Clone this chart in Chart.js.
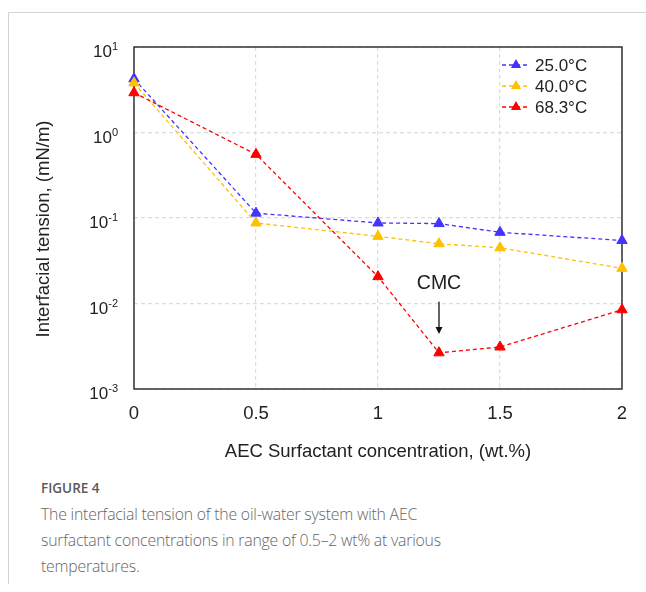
<!DOCTYPE html>
<html>
<head>
<meta charset="utf-8">
<script src="https://cdn.jsdelivr.net/npm/chart.js@4.4.1/dist/chart.umd.min.js"></script>
<style>
  html, body { margin: 0; padding: 0; background: #fff; }
  body { width: 646px; height: 592px; position: relative; overflow: hidden; }
  #frame { position: absolute; left: 8px; top: 12px; width: 700px; height: 571px;
           border-left: 1px solid #d4d4d4; border-top: 1px solid #d4d4d4; }
  #wrap { position: absolute; left: 0; top: 0; width: 646px; height: 470px; }
  #caption { position: absolute; left: 41px; top: 478px; font-family: "Open Sans", sans-serif; color: #666; }
  #caption .fig { font-size: 13.5px; font-weight: 600; color: #5a5a5a; line-height: 20px; }
  #caption .txt { font-size: 15.8px; font-weight: 300; letter-spacing: -0.2px; line-height: 26px; margin-top: 3px; }
</style>
</head>
<body>
<div id="frame"></div>
<div id="wrap"><canvas id="chart" width="646" height="470"></canvas></div>
<div id="caption">
  <div class="fig">FIGURE 4</div>
  <div class="txt">The interfacial tension of the oil-water system with AEC<br>surfactant concentrations in range of 0.5–2 wt% at various<br>temperatures.</div>
</div>
<script>
(() => {

    // concentrations, wt.%
    const concentrations = [0, 0.5, 1, 1.25, 1.5, 2]

    // interfacial tension, mN/m
    const ift_25 = [4.25, 0.114, 0.0875, 0.086, 0.068, 0.0546]
    const ift_40 = [3.8, 0.0875, 0.061, 0.050, 0.0448, 0.0258]
    const ift_68 = [2.92, 0.555, 0.0206, 0.00265, 0.0031, 0.00845]

    const series_labels = ["25.0°C", "40.0°C", "68.3°C"]
    const series_colors = ["#4433ff", "#ffc000", "#ff0000"]
    const series_values = [ift_25, ift_40, ift_68]

    const x_ticks = [0, 0.5, 1, 1.5, 2]
    const y_exponents = [1, 0, -1, -2, -3]

    // CMC annotation (data units)
    const cmc_x = 1.25
    const cmc_label_y = 0.017
    const cmc_arrow_from = 0.0105
    const cmc_arrow_to = 0.0044

    const font_family = "'Liberation Sans', Arial, sans-serif"
    const text_color = "#222"

    const datasets = series_values.map((values, i) => ({
        label: series_labels[i],
        data: values.map((v, j) => ({x: concentrations[j], y: v})),
        borderColor: series_colors[i],
        backgroundColor: series_colors[i],
        borderWidth: 1.3,
        borderDash: [4, 3],
        pointStyle: "triangle",
        pointRadius: 6,
        pointBorderWidth: 1,
        pointBackgroundColor: series_colors[i],
        pointBorderColor: series_colors[i],
        tension: 0,
        clip: false,
        order: 3 - i
    }))

    const decorations = {
        id: "decorations",
        beforeDatasetsDraw(chart) {
            const {ctx, chartArea: a, scales: {y}} = chart
            ctx.save()
            ctx.strokeStyle = "#333"
            ctx.lineWidth = 1.5
            ctx.strokeRect(a.left, a.top, a.right - a.left, a.bottom - a.top)

            // y tick labels with superscript exponents
            ctx.fillStyle = text_color
            ctx.textBaseline = "alphabetic"
            const right = a.left - 16
            for (const e of y_exponents) {
                const py = y.getPixelForValue(Math.pow(10, e))
                ctx.font = "11px " + font_family
                const exp = String(e)
                const ew = ctx.measureText(exp).width
                ctx.textAlign = "left"
                ctx.fillText(exp, right - ew, py + 3)
                ctx.font = "17px " + font_family
                ctx.textAlign = "right"
                ctx.fillText("10", right - ew, py + 10)
            }

            // y axis title
            ctx.translate(44, 229)
            ctx.rotate(-Math.PI / 2)
            ctx.font = "18.5px " + font_family
            ctx.textAlign = "center"
            ctx.textBaseline = "middle"
            ctx.fillText("Interfacial tension, (mN/m)", 0, 0)
            ctx.restore()
        },
        afterDraw(chart) {
            const {ctx, chartArea: a, scales: {x, y}} = chart
            ctx.save()

            // legend
            ctx.font = "17px " + font_family
            ctx.textBaseline = "middle"
            ctx.textAlign = "left"
            series_labels.forEach((label, i) => {
                const ly = a.top + 18 + i * 21
                const x0 = a.right - 120, x1 = a.right - 92
                ctx.strokeStyle = series_colors[i]
                ctx.lineWidth = 1.3
                ctx.setLineDash([4, 3])
                ctx.beginPath()
                ctx.moveTo(x0, ly)
                ctx.lineTo(x1, ly)
                ctx.stroke()
                ctx.setLineDash([])
                ctx.fillStyle = series_colors[i]
                Chart.helpers.drawPoint(ctx, {pointStyle: "triangle", radius: 4.6, borderWidth: 1}, (x0 + x1) / 2, ly)
                ctx.fill()
                ctx.fillStyle = text_color
                ctx.fillText(label, a.right - 87, ly + 1)
            })

            // CMC annotation
            const cx = x.getPixelForValue(cmc_x)
            ctx.font = "19.5px " + font_family
            ctx.fillStyle = text_color
            ctx.textAlign = "center"
            ctx.fillText("CMC", cx, y.getPixelForValue(cmc_label_y))
            const y0 = y.getPixelForValue(cmc_arrow_from)
            const y1 = y.getPixelForValue(cmc_arrow_to)
            ctx.strokeStyle = "#111"
            ctx.lineWidth = 1.3
            ctx.beginPath()
            ctx.moveTo(cx, y0)
            ctx.lineTo(cx, y1 - 6)
            ctx.stroke()
            ctx.fillStyle = "#111"
            ctx.beginPath()
            ctx.moveTo(cx - 3.5, y1 - 7)
            ctx.lineTo(cx + 3.5, y1 - 7)
            ctx.lineTo(cx, y1)
            ctx.closePath()
            ctx.fill()
            ctx.restore()
        }
    }

    new Chart("chart", {
        type: "line",
        data: {datasets: datasets},
        options: {
            responsive: false,
            animation: false,
            layout: {padding: {left: 0, top: 47, right: 24, bottom: 0}},
            plugins: {
                legend: {display: false},
                tooltip: {enabled: false}
            },
            scales: {
                x: {
                    type: "linear",
                    min: 0,
                    max: 2,
                    afterBuildTicks: (scale) => { scale.ticks = x_ticks.map((v) => ({value: v})) },
                    afterFit: (scale) => { scale.height = 81 },
                    border: {display: false, dash: [4, 3]},
                    grid: {color: "#dcdcdc", lineWidth: 1.2, drawTicks: false},
                    ticks: {
                        padding: 14,
                        color: text_color,
                        font: {family: font_family, size: 18.5},
                        callback: (v) => String(v)
                    },
                    title: {
                        display: true,
                        text: "AEC Surfactant concentration, (wt.%)",
                        color: text_color,
                        font: {family: font_family, size: 18.5},
                        padding: {top: 0, bottom: 7}
                    }
                },
                y: {
                    type: "logarithmic",
                    min: 0.001,
                    max: 10,
                    afterBuildTicks: (scale) => { scale.ticks = y_exponents.map((e) => ({value: Math.pow(10, e)})) },
                    afterFit: (scale) => { scale.width = 134 },
                    border: {display: false, dash: [4, 3]},
                    grid: {color: "#dcdcdc", lineWidth: 1.2, drawTicks: false},
                    ticks: {display: false},
                    title: {display: false}
                }
            }
        },
        plugins: [decorations]
    })

})()
</script>
</body>
</html>
